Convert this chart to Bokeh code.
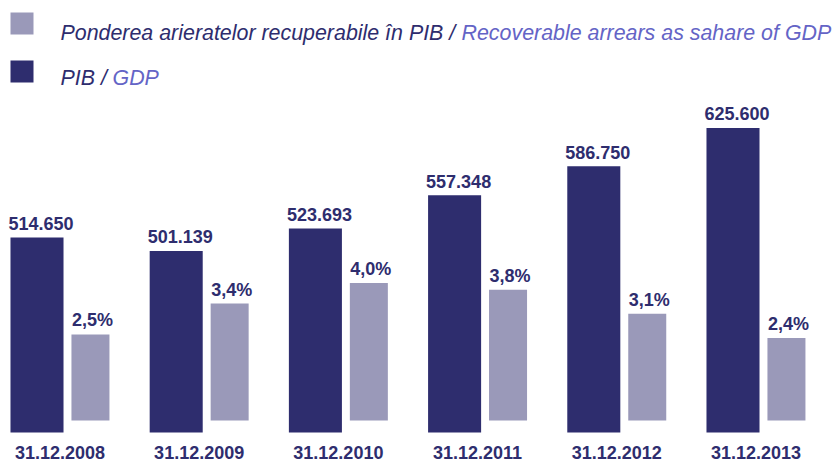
from bokeh.plotting import figure
from bokeh.models import ColumnDataSource, Range1d, Label, BoxAnnotation
from bokeh.transform import dodge
from bokeh.core.properties import value
from bokeh.embed import file_html
from bokeh.resources import INLINE

# ---- data ----
dates = ["31.12.2008", "31.12.2009", "31.12.2010", "31.12.2011", "31.12.2012", "31.12.2013"]
gdp = [514650, 501139, 523693, 557348, 586750, 625600]          # PIB / GDP (mil. lei)
share = [2.5, 3.4, 4.0, 3.8, 3.1, 2.4]                          # % of GDP
legend_share_ro = "Ponderea arieratelor recuperabile în PIB / "
legend_share_en = "Recoverable arrears as sahare of GDP"
legend_gdp_ro = "PIB / "
legend_gdp_en = "GDP"

DARK = "#2E2D6E"
LIGHT = "#9A99B9"
EN = "#6464C6"
FONT = value("Liberation Sans")

src = ColumnDataSource(dict(
    x=list(range(len(dates))),
    date=dates,
    gdp=gdp,
    share=share,
    gdp_lbl=[f"{v:,}".replace(",", ".") for v in gdp],
    share_lbl=[f"{v:.1f}%".replace(".", ",") for v in share],
))

W, H = 834, 459
GDP_BASE = 317400
p = figure(width=W, height=H, output_backend="svg", toolbar_location=None,
           x_range=Range1d(-0.2622, 5.7292), y_range=Range1d(290000, 754600),
           x_axis_location=None, y_axis_location=None, min_border=0)
p.extra_y_ranges = {"share": Range1d(-1.134, 12.209)}
p.grid.visible = False
p.outline_line_color = None
p.background_fill_color = "white"
p.border_fill_color = "white"

p.vbar(x="x", top="gdp", bottom=GDP_BASE, width=0.381, source=src,
       fill_color=DARK, line_color=None)
p.vbar(x=dodge("x", 0.384, range=p.x_range), top="share", bottom=0, width=0.273,
       source=src, fill_color=LIGHT, line_color=None, y_range_name="share")

p.text(x=dodge("x", -0.1905, range=p.x_range), y="gdp", text="gdp_lbl", source=src,
       text_align="left", text_baseline="alphabetic", x_offset=-2, y_offset=-14,
       text_font=FONT, text_font_size="18px", text_font_style="bold", text_color=DARK)
p.text(x=dodge("x", 0.384, range=p.x_range), y="share", text="share_lbl", source=src,
       text_align="center", text_baseline="alphabetic", y_offset=-14, x_offset=2,
       text_font=FONT, text_font_size="18px", text_font_style="bold", text_color=DARK,
       y_range_name="share")
p.text(x=dodge("x", 0.165, range=p.x_range), y=GDP_BASE, text="date", source=src,
       text_align="center", text_baseline="alphabetic", y_offset=20.5,
       text_font=FONT, text_font_size="18px", text_font_style="bold", text_color=DARK)

# legend (two-colour texts)
LFS = "21.4px"
p.add_layout(BoxAnnotation(left=10, right=33, top=H - 12, bottom=H - 34,
                           left_units="screen", right_units="screen",
                           top_units="screen", bottom_units="screen",
                           fill_color=LIGHT, fill_alpha=1, line_color=None))
p.add_layout(BoxAnnotation(left=10, right=33, top=H - 60, bottom=H - 82,
                           left_units="screen", right_units="screen",
                           top_units="screen", bottom_units="screen",
                           fill_color=DARK, fill_alpha=1, line_color=None))
for txt, x, y, col in [(legend_share_ro, 60, H - 32, DARK),
                       (legend_share_en, 461, H - 32, EN),
                       (legend_gdp_ro, 60, H - 77, DARK),
                       (legend_gdp_en, 112, H - 77, EN)]:
    p.add_layout(Label(x=x, y=y, x_units="screen", y_units="screen", text=txt,
                       text_font="Liberation Sans", text_font_size=LFS,
                       text_font_style="italic", text_color=col,
                       text_baseline="alphabetic"))

open("out.html", "w").write(file_html(p, INLINE))
